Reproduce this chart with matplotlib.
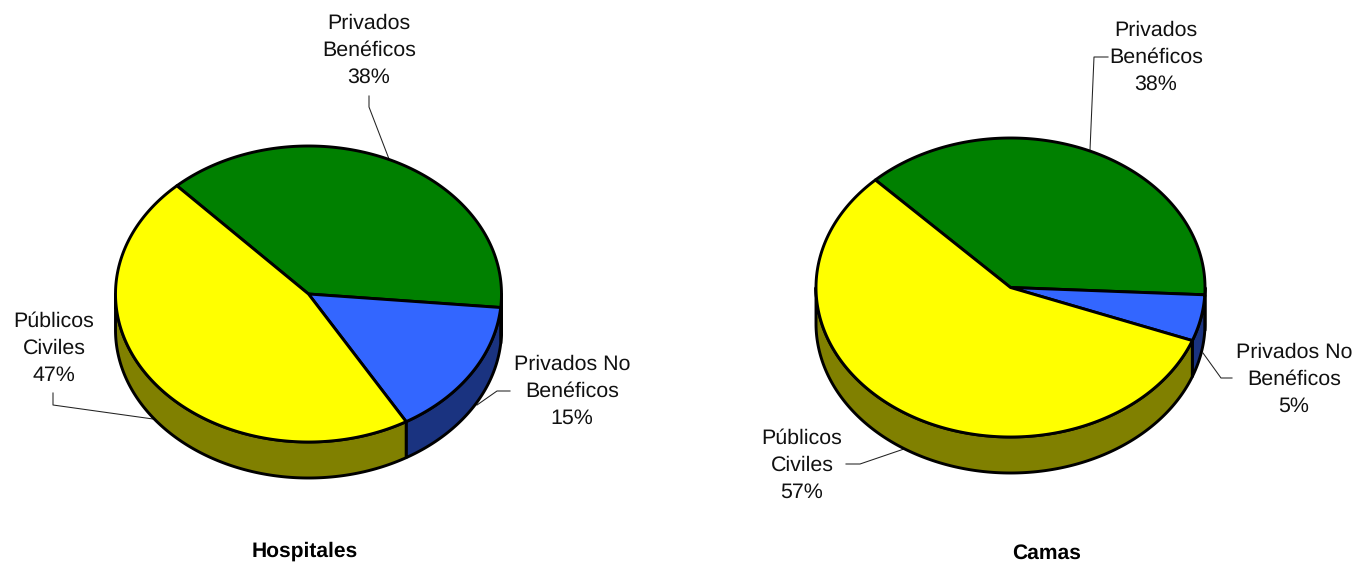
import numpy as np
import matplotlib
matplotlib.use('Agg')
import matplotlib.pyplot as plt

plt.rcParams['font.family'] = ['Liberation Sans', 'DejaVu Sans']
plt.rcParams['text.hinting'] = 'none'

W, H = 1359, 566

categories = ['Privados Beneficos', 'Privados No Beneficos', 'Publicos Civiles']
hospitales = [38.4, 15.1, 46.5]
camas = [38, 5, 57]

top_colors = ['#008000', '#3366FF', '#FFFF00']
wall_colors = ['#004000', '#1A3380', '#808000']
line_w = 2.1
depth = 36


def arc(cx, cy, rx, ry, a0, a1, n=200):
    t = np.radians(np.linspace(a0, a1, n))
    return cx + rx * np.cos(t), cy - ry * np.sin(t)


def pie3d(ax, values, cx, cy, rx, ry, start):
    vals = np.array(values, dtype=float)
    angles = start - np.concatenate([[0], np.cumsum(vals / vals.sum() * 360)])

    # walls, only the front half can be seen
    for i in range(len(vals)):
        a0, a1 = angles[i], angles[i + 1]
        lo, hi = max(a1, -180), min(a0, 0)
        if hi <= lo:
            continue
        x, y = arc(cx, cy, rx, ry, hi, lo)
        xs = np.concatenate([x, x[::-1]])
        ys = np.concatenate([y, y[::-1] + depth])
        ax.fill(xs, ys, facecolor=wall_colors[i], edgecolor='black', lw=line_w, zorder=2,
                joinstyle='round')

    # top slices
    for i in range(len(vals)):
        x, y = arc(cx, cy, rx, ry, angles[i], angles[i + 1])
        ax.fill(np.r_[cx, x], np.r_[cy, y], facecolor=top_colors[i], edgecolor='black',
                lw=line_w, zorder=3, joinstyle='round')


fig = plt.figure(figsize=(W / 100, H / 100), dpi=100)
ax = fig.add_axes([0, 0, 1, 1])
ax.set_xlim(0, W)
ax.set_ylim(H, 0)
ax.axis('off')

pie3d(ax, hospitales, 308.5, 294, 193, 148, 133)
pie3d(ax, camas, 1010.5, 287.5, 194.5, 149.5, 134)

fs = 15.4
txt = dict(ha='center', va='center', fontsize=fs, color='#111111', linespacing=1.5)
ax.text(369, 50.5, 'Privados\nBenéficos\n38%', **txt)
ax.text(572, 391.5, 'Privados No\nBenéficos\n15%', **txt)
ax.text(54, 348.5, 'Públicos\nCiviles\n47%', **txt)
ax.text(1156, 57.5, 'Privados\nBenéficos\n38%', **txt)
ax.text(1294, 379.5, 'Privados No\nBenéficos\n5%', **txt)
ax.text(802, 465.5, 'Públicos\nCiviles\n57%', **txt)

ax.text(304.5, 551, 'Hospitales', ha='center', va='center', fontsize=15.1, fontweight='bold', color='black')
ax.text(1046.5, 553, 'Camas', ha='center', va='center', fontsize=15.1, fontweight='bold', color='black')

# leader lines
leaders = [
    ([369, 369, 389], [96, 107, 159]),
    ([510, 497, 477], [391, 391, 405]),
    ([53, 53, 153], [393, 405, 419]),
    ([1108, 1094, 1090], [57, 57, 150]),
    ([1232, 1221, 1203], [378, 378, 353]),
    ([846, 860, 904], [464, 464, 449]),
]
for xs, ys in leaders:
    ax.plot(xs, ys, color='#222222', lw=0.75, zorder=1)

fig.savefig('out.png', dpi=100)
